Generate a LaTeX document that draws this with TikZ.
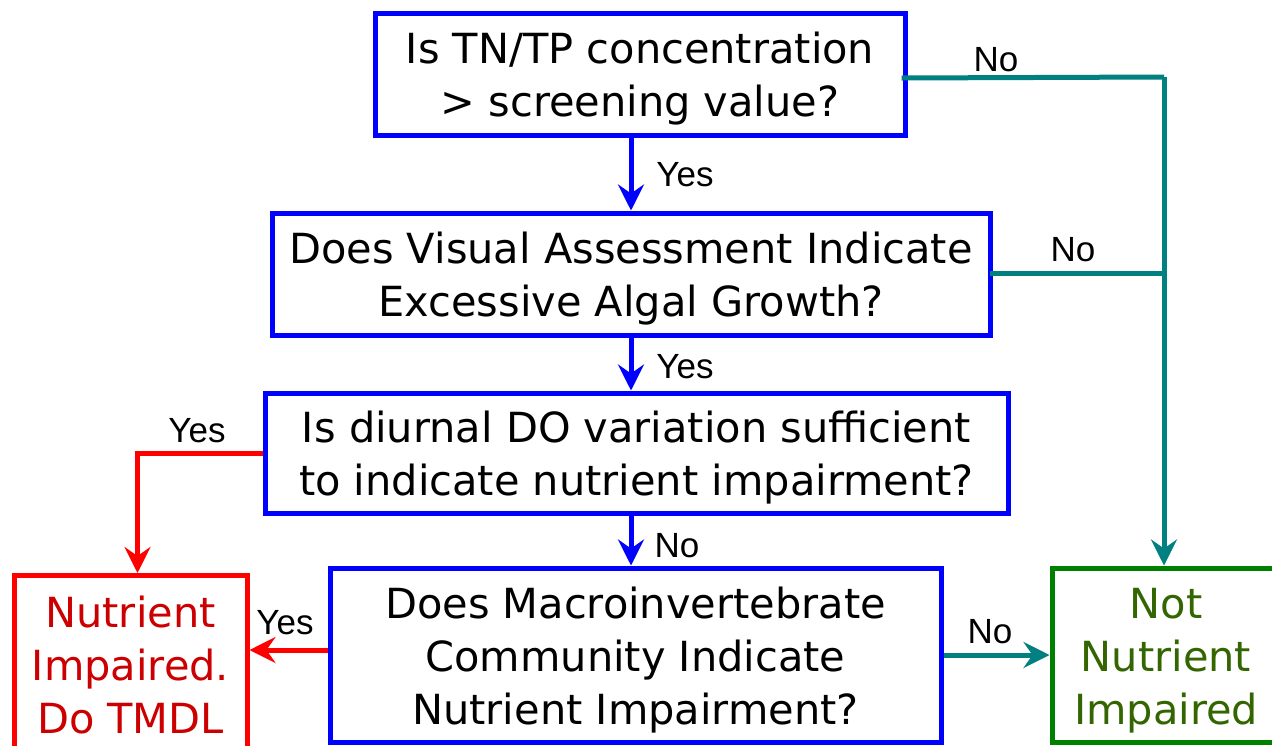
\documentclass[tikz,border=0pt]{standalone}
\usepackage{fontspec}
\setmainfont{DejaVu Sans}
\newfontfamily\lblfont{Liberation Sans}
\usetikzlibrary{arrows.meta}
\definecolor{qblue}{HTML}{0000FF}
\definecolor{qteal}{HTML}{008080}
\definecolor{qred}{HTML}{FF0000}
\definecolor{qgreen}{HTML}{008000}
\definecolor{tred}{HTML}{CC0000}
\definecolor{tgreen}{HTML}{336600}
\newcommand{\toplift}{\rule{0pt}{41.5pt}}
\tikzset{
  boxbase/.style={line width=5pt, align=center, inner sep=0pt,
    font=\fontsize{41.5}{53}\selectfont},
  qbox/.style={boxbase, draw=qblue, text=black},
  redbox/.style={boxbase, draw=qred, text=tred},
  greenbox/.style={boxbase, draw=qgreen, text=tgreen},
  conn/.style={line width=5pt, -{Stealth[length=26pt,width=26pt,inset=9pt]}},
  plainconn/.style={line width=5pt},
  lbl/.style={font=\lblfont\fontsize{35}{38}\selectfont, inner sep=0pt}
}
\begin{document}
\begin{tikzpicture}[x=1pt,y=-1pt]
\useasboundingbox (0,0) rectangle (1272,745);
\fill[white] (0,0) rectangle (1272,745);
\node[qbox, minimum width=530, minimum height=122] (box1) at (640,74)
  {\toplift Is TN/TP concentration\\ > screening value?};
\node[qbox, minimum width=718, minimum height=122] (box2) at (631,274)
  {\toplift Does Visual Assessment Indicate\\ Excessive Algal Growth?};
\node[qbox, minimum width=743, minimum height=120] (box3) at (636.5,453)
  {\toplift Is diurnal DO variation sufficient\\ to indicate nutrient impairment?};
\node[qbox, minimum width=611, minimum height=174] (box4) at (635.5,655)
  {\toplift Does Macroinvertebrate\\ Community Indicate\\ Nutrient Impairment?};
\node[redbox, minimum width=233, minimum height=180, anchor=north] (red) at (130.5,573)
  {Nutrient\\ Impaired.\\ Do TMDL};
\node[greenbox, minimum width=228, minimum height=174] (green) at (1166,655)
  {\toplift Not\\ Nutrient\\ Impaired};
\coordinate (tj) at (1164,77);
% blue yes/no chain
\draw[conn, qblue] (box1.south -| box2.north) -- (box2.north);
\draw[conn, qblue] (box2.south) -- (box3.north -| box2.south);
\draw[conn, qblue] (box3.south -| box2.south) -- (box4.north -| box2.south);
% teal no branches
\draw[plainconn, qteal] ([xshift=-6pt,yshift=-4pt]box1.east) -- (tj);
\draw[plainconn, qteal] ([xshift=-3pt,yshift=1pt]box2.east) -- ([yshift=1pt]box2.east -| tj);
\draw[conn, qteal] (tj) -- (tj |- green.north);
\draw[conn, qteal] (box4.east) -- (green.west);
% red yes branches
\draw[conn, qred] (box3.west) -| ([xshift=7pt]red.north);
\draw[conn, qred] ([yshift=5pt]box4.west) -- ([yshift=5pt]box4.west -| red.east);
% labels
\node[lbl] (l1) at (685,175) {Yes};
\node[lbl] (l2) at (685,367) {Yes};
\node[lbl] (l3) at (677,546) {No};
\node[lbl] (l4) at (996,60) {No};
\node[lbl] (l5) at (1073,250) {No};
\node[lbl] (l6) at (197,431) {Yes};
\node[lbl] (l7) at (285,623) {Yes};
\node[lbl] (l8) at (990,632) {No};
\end{tikzpicture}
\end{document}
